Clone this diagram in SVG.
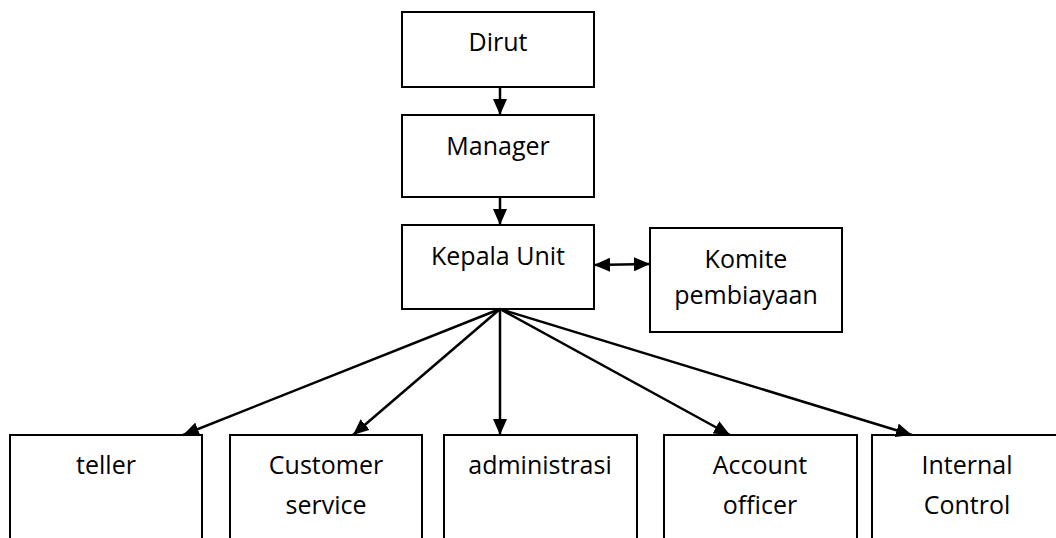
<svg xmlns="http://www.w3.org/2000/svg" width="1056" height="538" viewBox="0 0 1056 538">
<style>
.box{fill:#fff;stroke:#000;stroke-width:2}
.t{font-family:"Open Sans","Liberation Sans",sans-serif;font-size:25px;fill:#000;text-anchor:middle}
.c{stroke:#000;stroke-width:2.5;fill:none}
</style>
<defs>
<marker id="ah" viewBox="0 0 16 14" refX="16" refY="7" markerWidth="16" markerHeight="14" markerUnits="userSpaceOnUse" orient="auto-start-reverse">
<path d="M0,0 L16,7 L0,14 Z" fill="#000"/>
</marker>
</defs>
<rect width="1056" height="538" fill="#fff"/>
<g id="dirut"><rect class="box" x="402" y="12" width="192" height="75"/><text class="t" x="498" y="51">Dirut</text></g>
<g id="manager"><rect class="box" x="402" y="115" width="192" height="82"/><text class="t" x="498" y="155">Manager</text></g>
<g id="kepala"><rect class="box" x="402" y="225" width="192" height="84"/><text class="t" x="498" y="265">Kepala Unit</text></g>
<g id="komite"><rect class="box" x="650" y="228" width="192" height="104"/><text class="t" x="746" y="268">Komite</text><text class="t" x="746" y="304">pembiayaan</text></g>
<g id="teller"><rect class="box" x="10" y="435" width="192" height="110"/><text class="t" x="106" y="474">teller</text></g>
<g id="cs"><rect class="box" x="230" y="435" width="192" height="110"/><text class="t" x="326" y="474">Customer</text><text class="t" x="326" y="514">service</text></g>
<g id="admin"><rect class="box" x="444" y="435" width="193" height="110"/><text class="t" x="540" y="474">administrasi</text></g>
<g id="ao"><rect class="box" x="664" y="435" width="193" height="110"/><text class="t" x="760" y="474">Account</text><text class="t" x="760" y="514">officer</text></g>
<g id="ic"><rect class="box" x="872" y="435" width="192" height="110"/><text class="t" x="967" y="474">Internal</text><text class="t" x="967" y="514">Control</text></g>
<g id="connectors">
<line class="c" x1="500" y1="87" x2="500" y2="115" marker-end="url(#ah)"/>
<line class="c" x1="500" y1="197" x2="500" y2="225" marker-end="url(#ah)"/>
<line class="c" x1="594" y1="265" x2="650" y2="264" marker-start="url(#ah)" marker-end="url(#ah)"/>
<line class="c" x1="500" y1="309" x2="183" y2="435" marker-end="url(#ah)"/>
<line class="c" x1="500" y1="309" x2="353" y2="435" marker-end="url(#ah)"/>
<line class="c" x1="500" y1="309" x2="500" y2="435" marker-end="url(#ah)"/>
<line class="c" x1="500" y1="309" x2="730" y2="435" marker-end="url(#ah)"/>
<line class="c" x1="500" y1="309" x2="912" y2="435" marker-end="url(#ah)"/>
</g>
</svg>
